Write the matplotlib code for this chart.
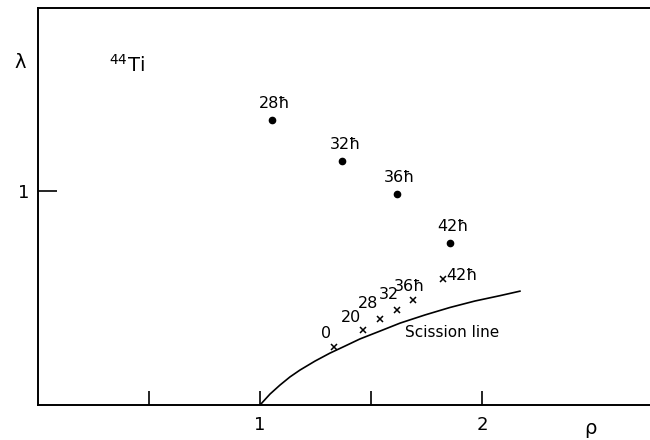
import numpy as np
import matplotlib.pyplot as plt

# rotating 44Ti: equilibrium points (dots) and saddle points (crosses)
spins_eq = ["28ħ", "32ħ", "36ħ", "42ħ"]
rho_eq = [1.052, 1.371, 1.617, 1.856]
lam_eq = [1.33, 1.139, 0.985, 0.757]

spins_sad = ["0", "20", "28", "32", "36ħ", "42ħ"]
rho_sad = [1.335, 1.465, 1.541, 1.616, 1.688, 1.823]
lam_sad = [0.269, 0.350, 0.401, 0.443, 0.490, 0.586]

# scission line
rho_sc = [1.0, 1.045, 1.090, 1.135, 1.180, 1.248, 1.315, 1.383,
          1.450, 1.541, 1.631, 1.743, 1.856, 1.968, 2.081, 2.171]
lam_sc = [0.0, 0.051, 0.093, 0.131, 0.163, 0.205, 0.242, 0.275,
          0.308, 0.345, 0.382, 0.420, 0.455, 0.485, 0.510, 0.531]

fig = plt.figure(figsize=(6.5, 4.4), dpi=100)
ax = fig.add_axes([0.0585, 0.0795, 0.9415, 0.902])
ax.set_xlim(0, 2.757)
ax.set_ylim(0, 1.851)

ax.plot(rho_sc, lam_sc, color="black", lw=1.2)
ax.plot(rho_eq, lam_eq, "o", color="black", ms=4.5, ls="none")
ax.plot(rho_sad, lam_sad, "x", color="black", ms=4, mew=1.1, ls="none")

for s, x, y in zip(spins_eq, rho_eq, lam_eq):
    ax.annotate(s, (x, y), xytext=(2, 11.5), textcoords="offset points",
                ha="center", va="center", fontsize=11.5)

sad_offsets = [(-6, 10), (-9, 9), (-9, 11.5), (-6, 11), (-2, 10), (14, 3)]
for s, x, y, off in zip(spins_sad, rho_sad, lam_sad, sad_offsets):
    ax.annotate(s, (x, y), xytext=off, textcoords="offset points",
                ha="center", va="center", fontsize=11.5)

ax.text(1.653, 0.336, "Scission line", fontsize=11, va="center", ha="left")
ax.text(0.32, 1.585, r"$^{44}$Ti", fontsize=14, va="center", ha="left")

ax.set_xticks([0.5, 1, 1.5, 2])
ax.set_xticklabels(["", "1", "", "2"])
ax.set_yticks([1])
ax.set_yticklabels(["1"])
ax.tick_params(axis="x", direction="in", length=10, width=1.2, labelsize=13, pad=8)
ax.tick_params(axis="y", direction="in", length=14, width=1.2, labelsize=13, pad=6)

ax.spines["right"].set_visible(False)
for sp in ["left", "bottom", "top"]:
    ax.spines[sp].set_linewidth(1.4)

ax.text(-0.029, 0.864, "λ", transform=ax.transAxes, fontsize=14,
        ha="center", va="center", clip_on=False)
ax.text(0.902, -0.058, "ρ", transform=ax.transAxes, fontsize=14,
        ha="center", va="center", clip_on=False)

fig.savefig("out.png", dpi=100)
